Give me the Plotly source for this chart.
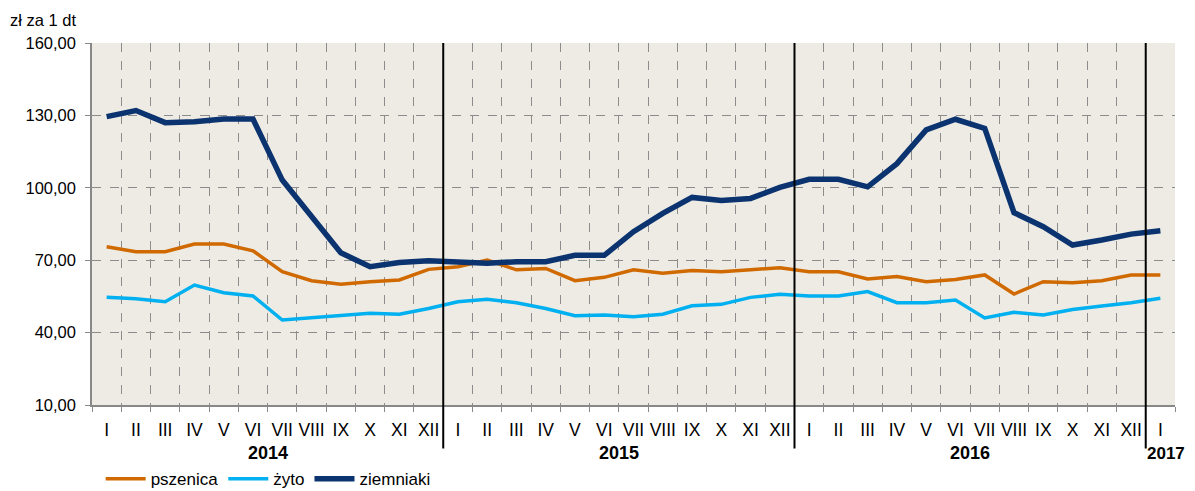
import plotly.graph_objects as go

months = ["I", "II", "III", "IV", "V", "VI", "VII", "VIII", "IX", "X", "XI", "XII"]
years = ["2014", "2015", "2016", "2017"]
months_per_year = [12, 12, 12, 1]

month_labels = []
for y, n in zip(years, months_per_year):
    month_labels += months[:n]

pszenica = [75.6, 73.5, 73.5, 76.7, 76.7, 73.9, 65.2, 61.5, 60.0, 61.1, 61.8, 66.2,
            67.3, 70.1, 66.0, 66.6, 61.5, 62.9, 66.0, 64.6, 65.7, 65.2, 66.0, 66.9,
            65.2, 65.2, 62.2, 63.2, 61.1, 62.0, 63.9, 56.0, 61.1, 60.7, 61.5, 63.9,
            63.9]
zyto = [54.6, 54.0, 52.8, 59.7, 56.5, 55.2, 45.2, 46.2, 46.9, 48.0, 47.6, 50.0,
        52.8, 53.8, 52.4, 50.0, 47.0, 47.3, 46.6, 47.6, 51.1, 51.7, 54.6, 55.9,
        55.2, 55.2, 57.0, 52.4, 52.4, 53.5, 46.1, 48.4, 47.3, 49.6, 51.0, 52.4,
        54.2]
ziemniaki = [129.5, 132.0, 127.0, 127.4, 128.5, 128.5, 103.2, 88.0, 73.1, 67.3, 69.0, 69.8,
             69.2, 68.7, 69.4, 69.4, 72.0, 72.0, 81.8, 89.4, 96.0, 94.7, 95.6, 100.2,
             103.5, 103.5, 100.4, 110.0, 124.0, 128.4, 124.6, 89.7, 83.9, 76.3, 78.4, 80.8,
             82.2]

x = list(range(len(month_labels)))
FONT = "Liberation Sans, Arial, sans-serif"

fig = go.Figure()
fig.add_trace(go.Scatter(x=x, y=pszenica, name="pszenica", mode="lines",
                         line=dict(color="#D06A00", width=3.5)))
fig.add_trace(go.Scatter(x=x, y=zyto, name="żyto", mode="lines",
                         line=dict(color="#00B0F0", width=3.5)))
fig.add_trace(go.Scatter(x=x, y=ziemniaki, name="ziemniaki", mode="lines",
                         line=dict(color="#0B3370", width=5.5)))

# year separators and year labels
start = 0
for i, (yr, n) in enumerate(zip(years, months_per_year)):
    end = start + n
    if i < len(years) - 1:
        fig.add_shape(type="line", xref="x", yref="paper",
                      x0=end - 0.5, x1=end - 0.5, y0=-0.12, y1=1,
                      line=dict(color="black", width=2))
        fig.add_annotation(x=(start + end - 1) / 2, y=-0.133, xref="x", yref="paper",
                           text="<b>%s</b>" % yr, showarrow=False,
                           font=dict(family=FONT, size=18, color="black"),
                           yanchor="middle")
    else:
        fig.add_annotation(x=1, y=-0.133, xref="paper", yref="paper",
                           text="<b>%s</b>" % yr, showarrow=False, xanchor="right",
                           xshift=12,
                           font=dict(family=FONT, size=17, color="black"),
                           yanchor="middle")
    start = end

fig.add_annotation(x=0, y=1.0, xref="paper", yref="paper", xshift=-84, yshift=23,
                   text="zł za 1 dt", showarrow=False, xanchor="left", yanchor="middle",
                   font=dict(family=FONT, size=16.5, color="black"))

fig.update_layout(
    width=1187, height=483,
    margin=dict(l=84, r=20, t=35, b=86, autoexpand=False),
    paper_bgcolor="white",
    plot_bgcolor="#EDEBE3",
    separators=", ",
    font=dict(family=FONT, size=16, color="black"),
    showlegend=True,
    legend=dict(orientation="h", x=0.008, y=-0.205, xanchor="left", yanchor="middle",
                font=dict(family=FONT, size=17, color="black"),
                bgcolor="rgba(0,0,0,0)", itemwidth=40, tracegroupgap=0),
)
fig.update_xaxes(
    range=[-0.5, len(x) - 0.5],
    tickmode="array", tickvals=x, ticktext=month_labels,
    showgrid=False, ticks="", showline=True, linecolor="#888888", linewidth=1.5,
    tickfont=dict(family=FONT, size=17.5, color="black"),
    ticklabelstandoff=8,
    zeroline=False,
    minor=dict(tick0=-0.5, dtick=1, showgrid=True, gridcolor="#8C8C8C",
               griddash="dash", gridwidth=1, ticks="outside", ticklen=5,
               tickcolor="#888888"),
)
fig.update_yaxes(
    range=[10, 160], tick0=10, dtick=30, tickformat=".2f",
    showgrid=True, gridcolor="#8C8C8C", griddash="dash", gridwidth=1,
    showline=True, linecolor="#888888", linewidth=1.5,
    ticks="outside", ticklen=5, tickcolor="#888888",
    ticklabelstandoff=6,
    tickfont=dict(family=FONT, size=16.5, color="black"),
    zeroline=False,
)

fig.write_html("out.html")
